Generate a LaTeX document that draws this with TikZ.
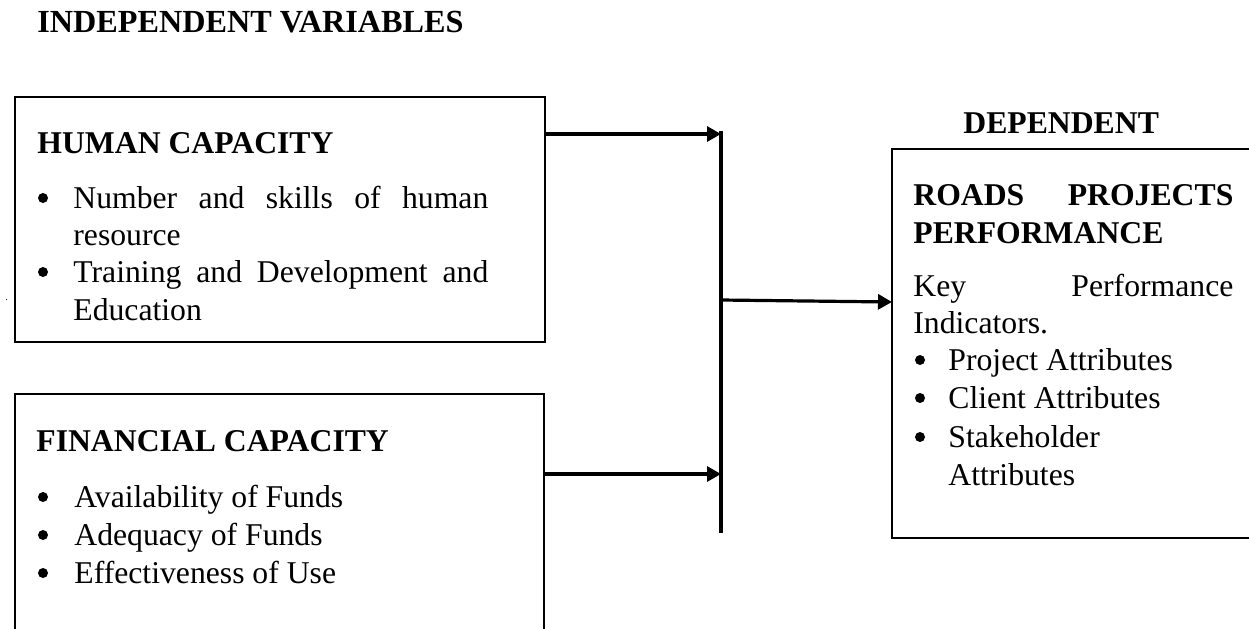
\documentclass[tikz,border=0pt]{standalone}
\usepackage{fontspec}
\setmainfont{Liberation Serif}
\usetikzlibrary{arrows.meta}
\newcommand{\bodyfont}{\fontsize{15.85}{18.5}\selectfont}
\newcommand{\headfont}{\fontsize{15.85}{18.5}\selectfont\bfseries}
\newcommand{\titlefont}{\fontsize{16.1}{18.5}\selectfont\bfseries}
\tikzset{
  frame/.style={draw=black, line width=0.85pt},
  conn/.style={line width=1.6pt, -{Triangle[length=7pt,width=7.5pt]}},
  barline/.style={line width=1.6pt},
  txt/.style={anchor=base west, inner sep=0pt, font=\bodyfont},
  head/.style={anchor=base west, inner sep=0pt, font=\headfont},
  ttl/.style={anchor=base west, inner sep=0pt, font=\titlefont},
  bul/.style={circle, fill=black, inner sep=0pt, minimum size=5pt}
}
\begin{document}
\begin{tikzpicture}[x=0.5pt,y=-0.5pt]
\clip (0,0) rectangle (1249,628);
\fill[white] (0,0) rectangle (1249,628);

% titles
\node[ttl] (indep) at (37,32) {INDEPENDENT VARIABLES};
\node[head] (dep) at (963,133) {DEPENDENT};

% box 1
\draw[frame] (15,97) rectangle (545,342);
\coordinate (hcR) at (545,134);
\node[head] (hc) at (37,153) {HUMAN CAPACITY};
\node[bul] (b11) at (43,198) {};
\node[txt] (l11) at (73,208) {\makebox[207.5pt][s]{Number and skills of human}};
\node[txt] (l12) at (73,245) {resource};
\node[bul] (b12) at (43,272) {};
\node[txt] (l13) at (73,282) {\makebox[207.5pt][s]{Training and Development and}};
\node[txt] (l14) at (73,320) {Education};
\node[txt, font=\fontsize{5}{6}\selectfont] (dot) at (5,300) {.};

% box 2
\draw[frame] (15,640) -- (15,394) -- (544,394) -- (544,640);
\coordinate (fcR) at (544,474);
\node[head] (fc) at (36,451) {FINANCIAL CAPACITY};
\node[bul] (b21) at (43,497) {};
\node[txt] (l21) at (74,507) {Availability of Funds};
\node[bul] (b22) at (43,535) {};
\node[txt] (l22) at (74,545) {Adequacy of Funds};
\node[bul] (b23) at (43,573) {};
\node[txt] (l23) at (74,583) {Effectiveness of Use};

% right box
\draw[frame] (1260,149) -- (892,149) -- (892,538) -- (1260,538);
\coordinate (rpL) at (892,302);
\node[head] (rp1) at (913,205) {\makebox[160pt][s]{ROADS PROJECTS}};
\node[head] (rp2) at (913,243) {PERFORMANCE};
\node[txt] (r1) at (913,296) {\makebox[160pt][s]{Key Performance}};
\node[txt] (r2) at (913,333) {Indicators.};
\node[bul] (rb1) at (920,360) {};
\node[txt] (r3) at (948,370) {Project Attributes};
\node[bul] (rb2) at (920,398) {};
\node[txt] (r4) at (948,408) {Client Attributes};
\node[bul] (rb3) at (920,437) {};
\node[txt] (r5) at (948,447) {Stakeholder};
\node[txt] (r6) at (948,485) {Attributes};

% junction bar
\coordinate (barT) at (721,131);
\coordinate (barB) at (721,533);
\coordinate (j1) at (721,134);
\coordinate (j2) at (721,474);
\coordinate (j3) at (721,300);
\draw[barline] (barT) -- (barB);
\draw[conn] (hcR) -- (j1);
\draw[conn] (fcR) -- (j2);
\draw[conn] (j3) -- (rpL);
\end{tikzpicture}
\end{document}
